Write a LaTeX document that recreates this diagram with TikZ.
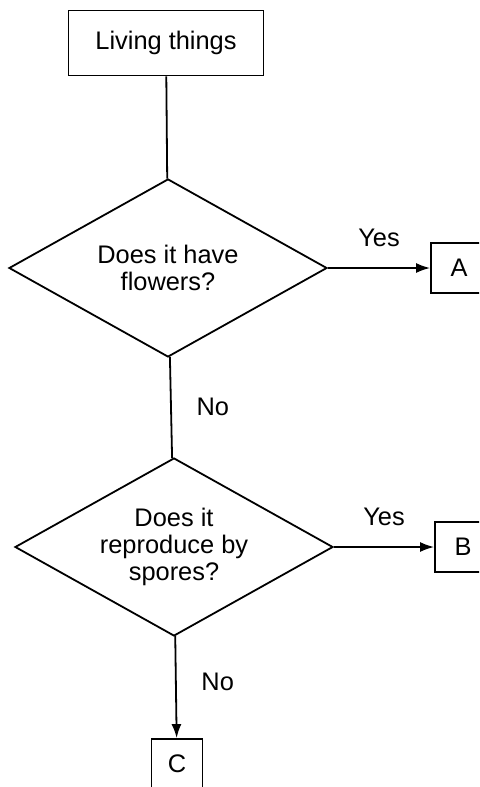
\documentclass[tikz,border=0pt]{standalone}
\usepackage{fontspec}
\setmainfont{Liberation Sans}
\usetikzlibrary{shapes.geometric,arrows.meta}
\begin{document}
\begin{tikzpicture}
[x=0.5pt,y=-0.5pt,
  font=\fontsize{12.7}{13.5}\selectfont,
  boxdecorate/.style={shape=rectangle,draw,line width=0.9pt,inner sep=0pt},
  questiondecorate/.style={shape=diamond,draw,line width=0.9pt,inner sep=0pt,
    aspect=1.8,minimum width=159pt,minimum height=89pt,align=center},
  linedecorate/.style={-,line width=0.9pt},
  arrowdecorate/.style={-{Latex[length=7pt,width=5pt]},line width=0.9pt}]
\useasboundingbox (0,0) rectangle (479,787);
\clip (0,0) rectangle (479,787);
%% start box and questions
\node (living) at (166,43) [boxdecorate,minimum width=97.5pt,minimum height=32.5pt] {Living things};
\node (flowers) at (168,268) [questiondecorate] {Does it have\\flowers?};
\node (spores) at (174,547) [questiondecorate] {Does it\\reproduce by\\spores?};
%% answer boxes
\foreach \nodename/\x/\y/\w in {A/459/268/28pt, B/463/547/28pt, C/177/764/25.5pt} {
  \node (\nodename) at (\x,\y) [boxdecorate,minimum width=\w,minimum height=25pt] {\nodename};
}
%% lines and arrows
\path
  (living) edge[linedecorate] (flowers)
  (flowers) edge[linedecorate] node[pos=0.49,right=9pt] {No} (spores)
  (flowers) edge[arrowdecorate] node[above=7pt] {Yes} (A)
  (spores) edge[arrowdecorate] node[above=7pt] {Yes} (B)
  (spores) edge[arrowdecorate] node[pos=0.45,right=9pt] {No} (C);
\end{tikzpicture}
\end{document}
